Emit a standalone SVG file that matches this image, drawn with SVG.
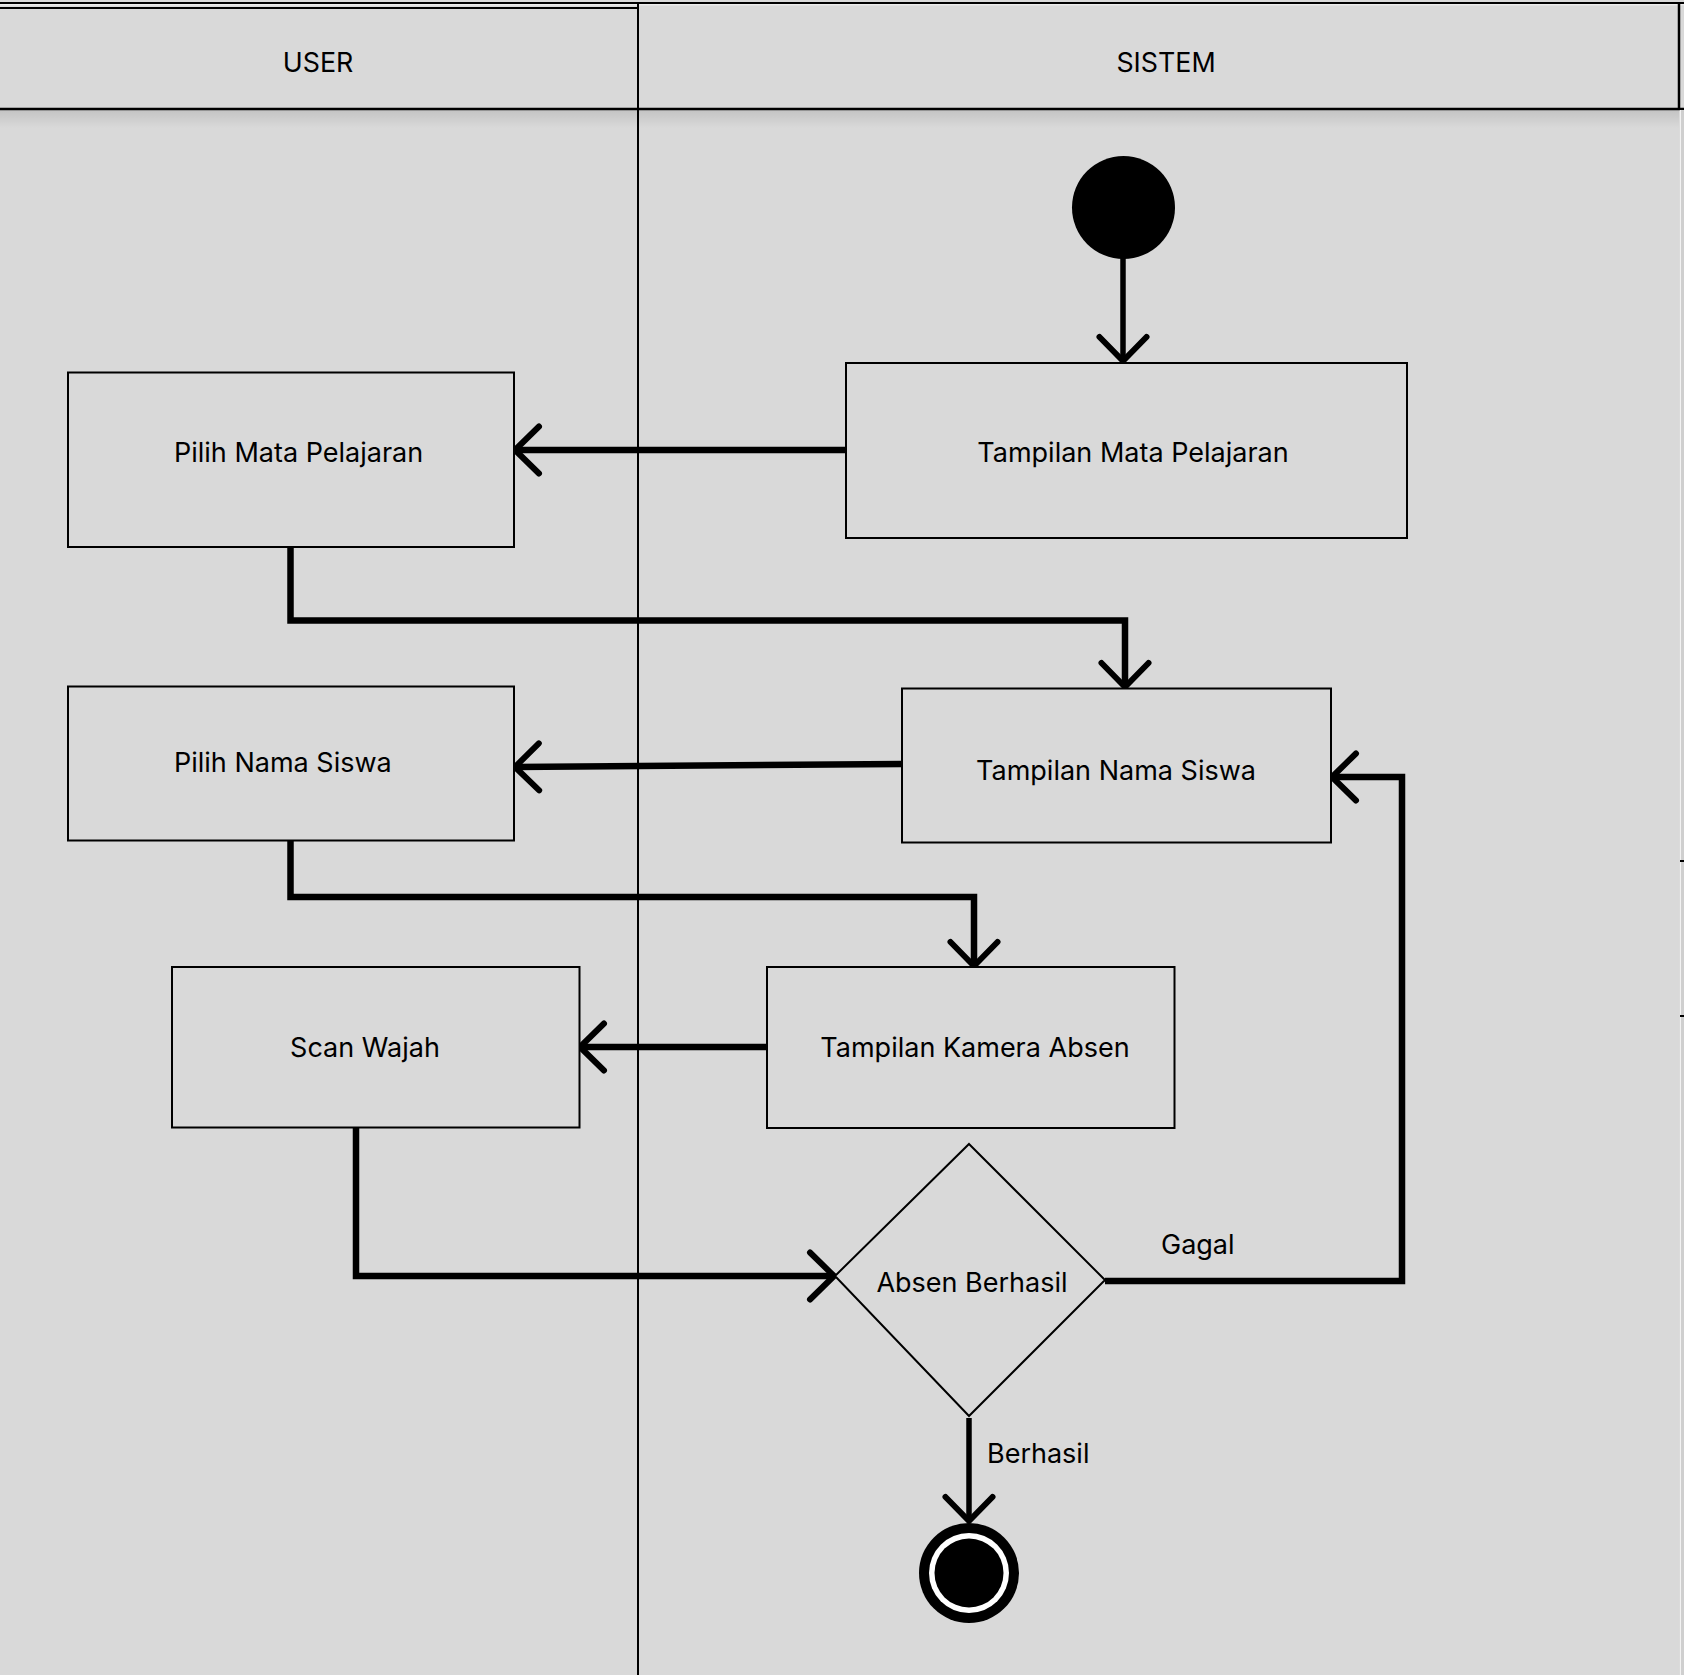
<svg xmlns="http://www.w3.org/2000/svg" width="1684" height="1675" viewBox="0 0 1684 1675">
  <style>
    .lbl { font-family: Inter, "Noto Sans", "Liberation Sans", sans-serif; font-size: 27px; fill: #000; }
    .hdr { font-family: Inter, "Noto Sans", "Liberation Sans", sans-serif; font-size: 26.8px; fill: #000; }
    .box { fill: #d9d9d9; stroke: #000; stroke-width: 2; }
    .lane { fill: none; stroke: #000; stroke-width: 2; }
    .conn { fill: none; stroke: #000; stroke-width: 6.5; stroke-linejoin: miter; }
  </style>
  <defs>
    <marker id="arrow" markerUnits="userSpaceOnUse" viewBox="-40 -40 60 80" refX="0" refY="0" markerWidth="60" markerHeight="80" orient="auto" overflow="visible">
      <path d="M-24,-23.5 L0,0 L-24,23.5" fill="none" stroke="#000" stroke-width="6" stroke-linecap="round" stroke-linejoin="round"/>
    </marker>
    <linearGradient id="shadow" x1="0" y1="0" x2="0" y2="1">
      <stop offset="0" stop-color="#000" stop-opacity="0.10"/>
      <stop offset="1" stop-color="#000" stop-opacity="0"/>
    </linearGradient>
  </defs>

  <!-- background -->
  <rect x="0" y="0" width="1684" height="1675" fill="#d9d9d9"/>

  <!-- swimlanes -->
  <g id="lanes">
    <rect x="0" y="110" width="1679" height="18" fill="url(#shadow)"/>
    <line x1="0" y1="3" x2="1684" y2="3" stroke="#000" stroke-width="2"/>
    <line x1="0" y1="4.8" x2="1684" y2="4.8" stroke="#f4f4f4" stroke-width="1"/>
    <rect x="-2" y="8" width="640" height="101" class="lane"/>
    <line x1="638" y1="3" x2="638" y2="1675" stroke="#000" stroke-width="2"/>
    <line x1="1679" y1="3" x2="1679" y2="109" stroke="#000" stroke-width="2.5"/>
    <line x1="0" y1="109" x2="1684" y2="109" stroke="#000" stroke-width="2.5"/>
    <line x1="1680.5" y1="110" x2="1680.5" y2="1675" stroke="#f2f2f2" stroke-width="1.2"/>
    <rect x="1681" y="110" width="3" height="1565" fill="#cfcfcf"/>
    <line x1="1680" y1="861" x2="1684" y2="861" stroke="#000" stroke-width="2"/>
    <line x1="1680" y1="1016" x2="1684" y2="1016" stroke="#000" stroke-width="2"/>
    <text class="hdr" x="318" y="72" text-anchor="middle">USER</text>
    <text class="hdr" x="1166" y="72" text-anchor="middle">SISTEM</text>
  </g>

  <!-- connectors -->
  <g id="connectors">
    <path class="conn" style="stroke-width:5.5" d="M1123,258 V361" marker-end="url(#arrow)"/>
    <path class="conn" d="M846,450 H515" marker-end="url(#arrow)"/>
    <path class="conn" d="M290.5,547 V620.5 H1125 V687" marker-end="url(#arrow)"/>
    <path class="conn" d="M902,764 L515,767" marker-end="url(#arrow)"/>
    <path class="conn" d="M290.5,841 V897 H974 V966" marker-end="url(#arrow)"/>
    <path class="conn" d="M767,1047 H580" marker-end="url(#arrow)"/>
    <path class="conn" d="M356,1127 V1276 H834" marker-end="url(#arrow)"/>
    <path class="conn" d="M1105,1281 H1402 V777 H1332" marker-end="url(#arrow)"/>
    <path class="conn" style="stroke-width:5.5" d="M969,1418 V1521" marker-end="url(#arrow)"/>
    <text class="lbl" x="1161" y="1254">Gagal</text>
    <text class="lbl" x="987" y="1463">Berhasil</text>
  </g>

  <!-- nodes -->
  <g id="start">
    <circle cx="1123.5" cy="207.5" r="51.5" fill="#000"/>
  </g>
  <g id="tampilan-mata-pelajaran">
    <rect class="box" x="846" y="363" width="561" height="175"/>
    <text class="lbl" x="1133" y="462" text-anchor="middle">Tampilan Mata Pelajaran</text>
  </g>
  <g id="pilih-mata-pelajaran">
    <rect class="box" x="68" y="372.5" width="446" height="174.5"/>
    <text class="lbl" x="174" y="462">Pilih Mata Pelajaran</text>
  </g>
  <g id="tampilan-nama-siswa">
    <rect class="box" x="902" y="688.5" width="429" height="154"/>
    <text class="lbl" x="1116" y="780" text-anchor="middle">Tampilan Nama Siswa</text>
  </g>
  <g id="pilih-nama-siswa">
    <rect class="box" x="68" y="686.5" width="446" height="154"/>
    <text class="lbl" x="174" y="772">Pilih Nama Siswa</text>
  </g>
  <g id="tampilan-kamera-absen">
    <rect class="box" x="767" y="967" width="407.5" height="161"/>
    <text class="lbl" x="975" y="1057" text-anchor="middle">Tampilan Kamera Absen</text>
  </g>
  <g id="scan-wajah">
    <rect class="box" x="172" y="967" width="407.5" height="160.5"/>
    <text class="lbl" x="365" y="1057" text-anchor="middle">Scan Wajah</text>
  </g>
  <g id="absen-berhasil">
    <polygon points="969,1144 1105,1280 969,1416 835,1276" fill="#d9d9d9" stroke="#000" stroke-width="2"/>
    <text class="lbl" x="972" y="1292" text-anchor="middle">Absen Berhasil</text>
  </g>
  <g id="end">
    <circle cx="969" cy="1573" r="50" fill="#000"/>
    <circle cx="969" cy="1573" r="40" fill="#fff"/>
    <circle cx="969" cy="1573" r="34.5" fill="#000"/>
  </g>
</svg>
